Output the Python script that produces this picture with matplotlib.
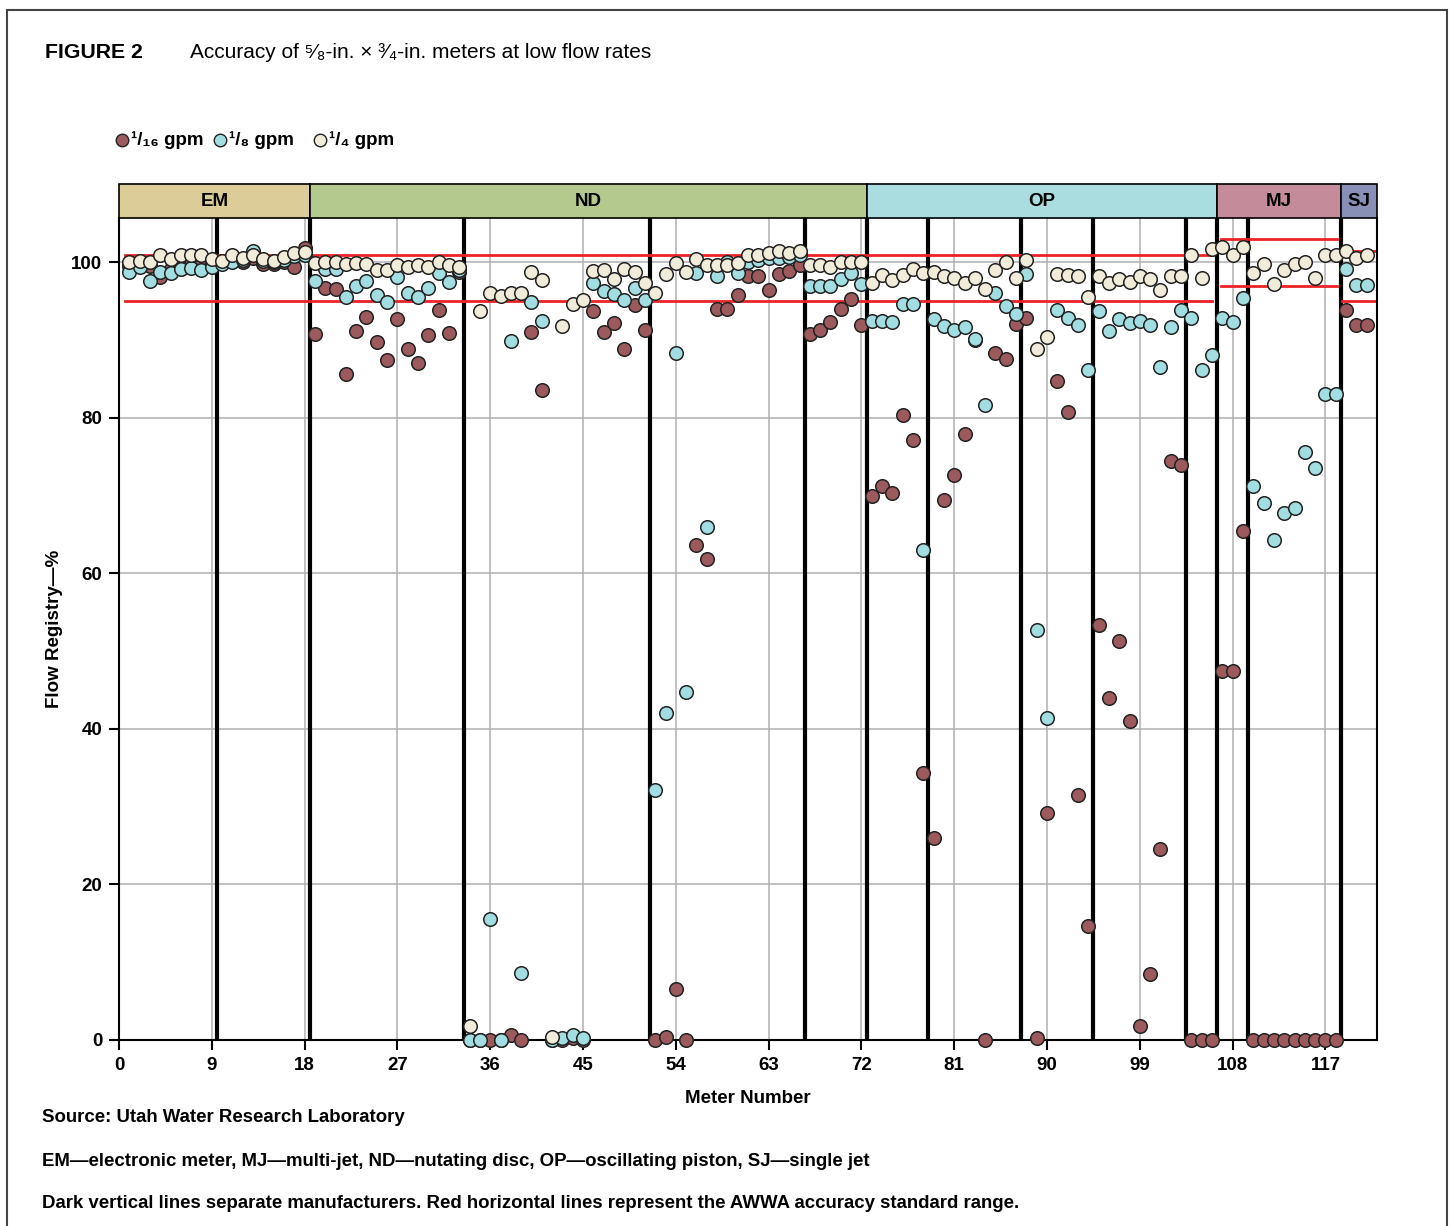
import numpy as np
import matplotlib
matplotlib.use("Agg")
import matplotlib.pyplot as plt
from matplotlib.lines import Line2D
from matplotlib.patches import Rectangle
import matplotlib.transforms as mtransforms

plt.rcParams['font.family'] = ['Liberation Sans', 'DejaVu Sans']

# meter readings, meters 1..121 (flow registry, %)
meters = np.arange(1, 122)

gpm_16 = [
    99.5, 99.8, 99.5, 98.1, 99.1, 99.8, 99.8, 99.7, 100.0, 100.0,
    100.5, 100.1, 100.5, 99.8, 99.8, 100.0, 99.4, 101.8, 90.8, 96.7,
    96.6, 85.6, 91.2, 93.0, 89.8, 87.4, 92.7, 88.9, 87.1, 90.6,
    93.9, 90.9, 98.8, 0, 0, 0, 0, 0.6, 0, 91.1,
    83.6, 0, 0, 0.2, 0, 93.7, 91.0, 92.2, 88.9, 94.5,
    91.3, 0, 0.4, 6.5, 0, 63.6, 61.8, 94.0, 94.0, 95.8,
    98.2, 98.2, 96.4, 98.5, 98.9, 99.6, 90.8, 91.3, 92.3, 94.0,
    95.3, 91.9, 69.9, 71.3, 70.3, 80.4, 77.2, 34.3, 26.0, 69.5,
    72.7, 77.9, 90.0, 0, 88.4, 87.6, 92.1, 92.9, 0.2, 29.2,
    84.7, 80.8, 31.5, 14.6, 53.4, 44.0, 51.3, 41.0, 1.8, 8.5,
    24.5, 74.5, 74.0, 0, 0, 0, 47.4, 47.4, 65.4, 0,
    0, 0, 0, 0, 0, 0, 0, 0, 93.9, 92.0,
    92.0,
]

gpm_8 = [
    98.7, 99.4, 97.6, 98.8, 98.6, 99.1, 99.3, 99.0, 99.4, 99.8,
    100.1, 100.3, 101.4, 100.2, 100.0, 100.3, 100.8, 100.9, 97.6, 99.1,
    99.1, 95.5, 97.0, 97.6, 95.8, 94.9, 98.1, 96.1, 95.5, 96.7,
    98.6, 97.5, 99.0, 0, 0, 15.6, 0, 89.9, 8.6, 94.9,
    92.5, 0, 0.3, 0.6, 0.3, 97.4, 96.3, 95.9, 95.2, 96.7,
    95.2, 32.2, 42.1, 88.3, 44.8, 98.6, 66.0, 98.2, 100.1, 98.6,
    100.1, 100.3, 100.6, 100.6, 100.7, 100.9, 97.0, 96.9, 96.9, 97.9,
    98.6, 97.2, 92.5, 92.4, 92.3, 94.6, 94.7, 63.0, 92.7, 91.8,
    91.3, 91.7, 90.2, 81.6, 96.0, 94.4, 93.4, 98.5, 52.7, 41.4,
    93.9, 92.8, 91.9, 86.1, 93.7, 91.2, 92.7, 92.2, 92.5, 91.9,
    86.6, 91.7, 93.9, 92.8, 86.2, 88.1, 92.9, 92.3, 95.4, 71.3,
    69.1, 64.3, 67.8, 68.4, 75.6, 73.6, 83.1, 83.1, 99.1, 97.1,
    97.1,
]

gpm_4 = [
    100.1, 100.2, 100.0, 101.0, 100.4, 100.9, 100.9, 100.9, 100.4, 100.2,
    101.0, 100.6, 100.9, 100.4, 100.2, 100.7, 101.2, 101.3, 99.9, 100.1,
    100.1, 99.8, 99.9, 99.8, 99.0, 99.0, 99.7, 99.4, 99.7, 99.4,
    100.1, 99.7, 99.4, 1.8, 93.8, 96.1, 95.7, 96.1, 96.0, 98.7,
    97.7, 0.4, 91.8, 94.6, 95.2, 98.9, 99.0, 97.9, 99.2, 98.7,
    97.4, 96.1, 98.5, 99.9, 98.7, 100.4, 99.6, 99.7, 99.7, 99.9,
    100.9, 100.9, 101.2, 101.4, 101.2, 101.5, 99.7, 99.6, 99.4, 100.1,
    100.1, 100.0, 97.4, 98.4, 97.7, 98.4, 99.2, 98.6, 98.8, 98.3,
    98.0, 97.3, 98.0, 96.6, 99.0, 100.0, 98.0, 100.3, 88.8, 90.4,
    98.5, 98.4, 98.3, 95.6, 98.2, 97.4, 97.9, 97.5, 98.2, 97.9,
    96.5, 98.3, 98.3, 101.0, 98.0, 101.7, 102.0, 101.0, 102.0, 98.6,
    99.8, 97.2, 99.0, 99.8, 100.0, 98.0, 101.0, 101.0, 101.5, 100.5,
    101.0,
]

# meter types (band across the top) and manufacturer separators
types = ['EM', 'ND', 'OP', 'MJ', 'SJ']
type_edges = [0, 18.5, 72.5, 106.5, 118.5, 122]
type_colors = ['#dccc98', '#b4c98e', '#a9dde0', '#c48b9b', '#8990b8']
separators = [9.5, 18.5, 33.5, 51.5, 66.5, 72.5, 78.5, 87.5, 94.5, 103.5, 106.5, 109.5, 118.5]

# AWWA accuracy limits: (x start, x end, upper, lower)
awwa = [(0.6, 106.0, 101.0, 95.0), (106.9, 118.1, 103.0, 97.0), (118.6, 121.8, 101.5, 95.0)]

W, H = 1450, 1226
fig = plt.figure(figsize=(14.5, 12.26), dpi=100)
ax = fig.add_axes([119 / W, 1 - 1040 / H, 1258 / W, 822 / H])

def fx(px):
    return px / W

def fy(py):
    return 1 - py / H

ax.set_xlim(0, 122)
ax.set_ylim(0, 105.7)

for x in range(9, 118, 9):
    ax.axvline(x, color='#b0b0b0', lw=1.1, zorder=0)
for y in range(20, 101, 20):
    ax.axhline(y, color='#b0b0b0', lw=1.1, zorder=0)

for s in separators:
    ax.axvline(s, color='black', lw=3.0, zorder=1)

for x0, x1, hi, lo in awwa:
    ax.plot([x0, x1], [hi, hi], color='#ec2227', lw=2.0, zorder=2)
    ax.plot([x0, x1], [lo, lo], color='#ec2227', lw=2.0, zorder=2)

c16, c8, c4 = '#9c5a5d', '#a2dde1', '#f1ecd9'
kw = dict(s=95, edgecolors='#222222', linewidths=1.1, clip_on=False)
ax.scatter(meters, gpm_16, color=c16, zorder=3, **kw)
ax.scatter(meters, gpm_8, color=c8, zorder=4, **kw)
ax.scatter(meters, gpm_4, color=c4, zorder=5, **kw)

# category band above the plot
trans = mtransforms.blended_transform_factory(ax.transData, ax.transAxes)
band_h = 34 / 822
for i, t in enumerate(types):
    x0, x1 = type_edges[i], type_edges[i + 1]
    ax.add_patch(Rectangle((x0, 1.0), x1 - x0, band_h, transform=trans,
                           facecolor=type_colors[i], edgecolor='black', lw=1.2, clip_on=False))
    ax.text((x0 + x1) / 2, 1.0 + band_h / 2, t, transform=trans, ha='center', va='center',
            fontsize=13.5, fontweight='bold')

for side in ['left', 'right', 'bottom']:
    ax.spines[side].set_linewidth(1.5)
ax.spines['top'].set_visible(False)

ax.set_xticks(range(0, 118, 9))
ax.set_yticks(range(0, 101, 20))
ax.tick_params(axis='both', direction='out', length=7, width=1.5, labelsize=13.5, pad=5)
for lab in ax.get_xticklabels() + ax.get_yticklabels():
    lab.set_fontweight('bold')

ax.set_xlabel('Meter Number', fontsize=13.5, fontweight='bold', labelpad=12)
ax.set_ylabel('Flow Registry\u2014%', fontsize=13.5, fontweight='bold', labelpad=6)

# title
fig.text(fx(45), fy(53), 'FIGURE 2', fontsize=15.3, fontweight='bold', va='center')
fig.text(fx(190), fy(53), 'Accuracy of \u2075\u2044\u2088-in. \u00d7 \u00b3\u2044\u2084-in. meters at low flow rates',
         fontsize=15, va='center')

# legend
leg = [(122, c16, '\u00b9/\u2081\u2086 gpm'), (220, c8, '\u00b9/\u2088 gpm'), (320, c4, '\u00b9/\u2084 gpm')]
for px, col, lab in leg:
    fig.add_artist(Line2D([fx(px)], [fy(140)], marker='o', markersize=9, color=col,
                          markeredgecolor='#222222', markeredgewidth=1.0, linestyle='none',
                          transform=fig.transFigure))
    fig.text(fx(px + 9), fy(140), lab, fontsize=13.5, fontweight='bold', va='center')

# footer
notes = [
    (1118, 'Source: Utah Water Research Laboratory'),
    (1161, 'EM\u2014electronic meter, MJ\u2014multi-jet, ND\u2014nutating disc, OP\u2014oscillating piston, SJ\u2014single jet'),
    (1203, 'Dark vertical lines separate manufacturers. Red horizontal lines represent the AWWA accuracy standard range.'),
]
for py, txt in notes:
    fig.text(fx(42), fy(py), txt, fontsize=13.4, fontweight='bold', va='center')

# outer frame
fig.add_artist(Rectangle((fx(7), -0.05), fx(1447) - fx(7), fy(10) + 0.05, transform=fig.transFigure,
                         fill=False, edgecolor='#444444', lw=1.5))

fig.savefig('out.png', dpi=100)
